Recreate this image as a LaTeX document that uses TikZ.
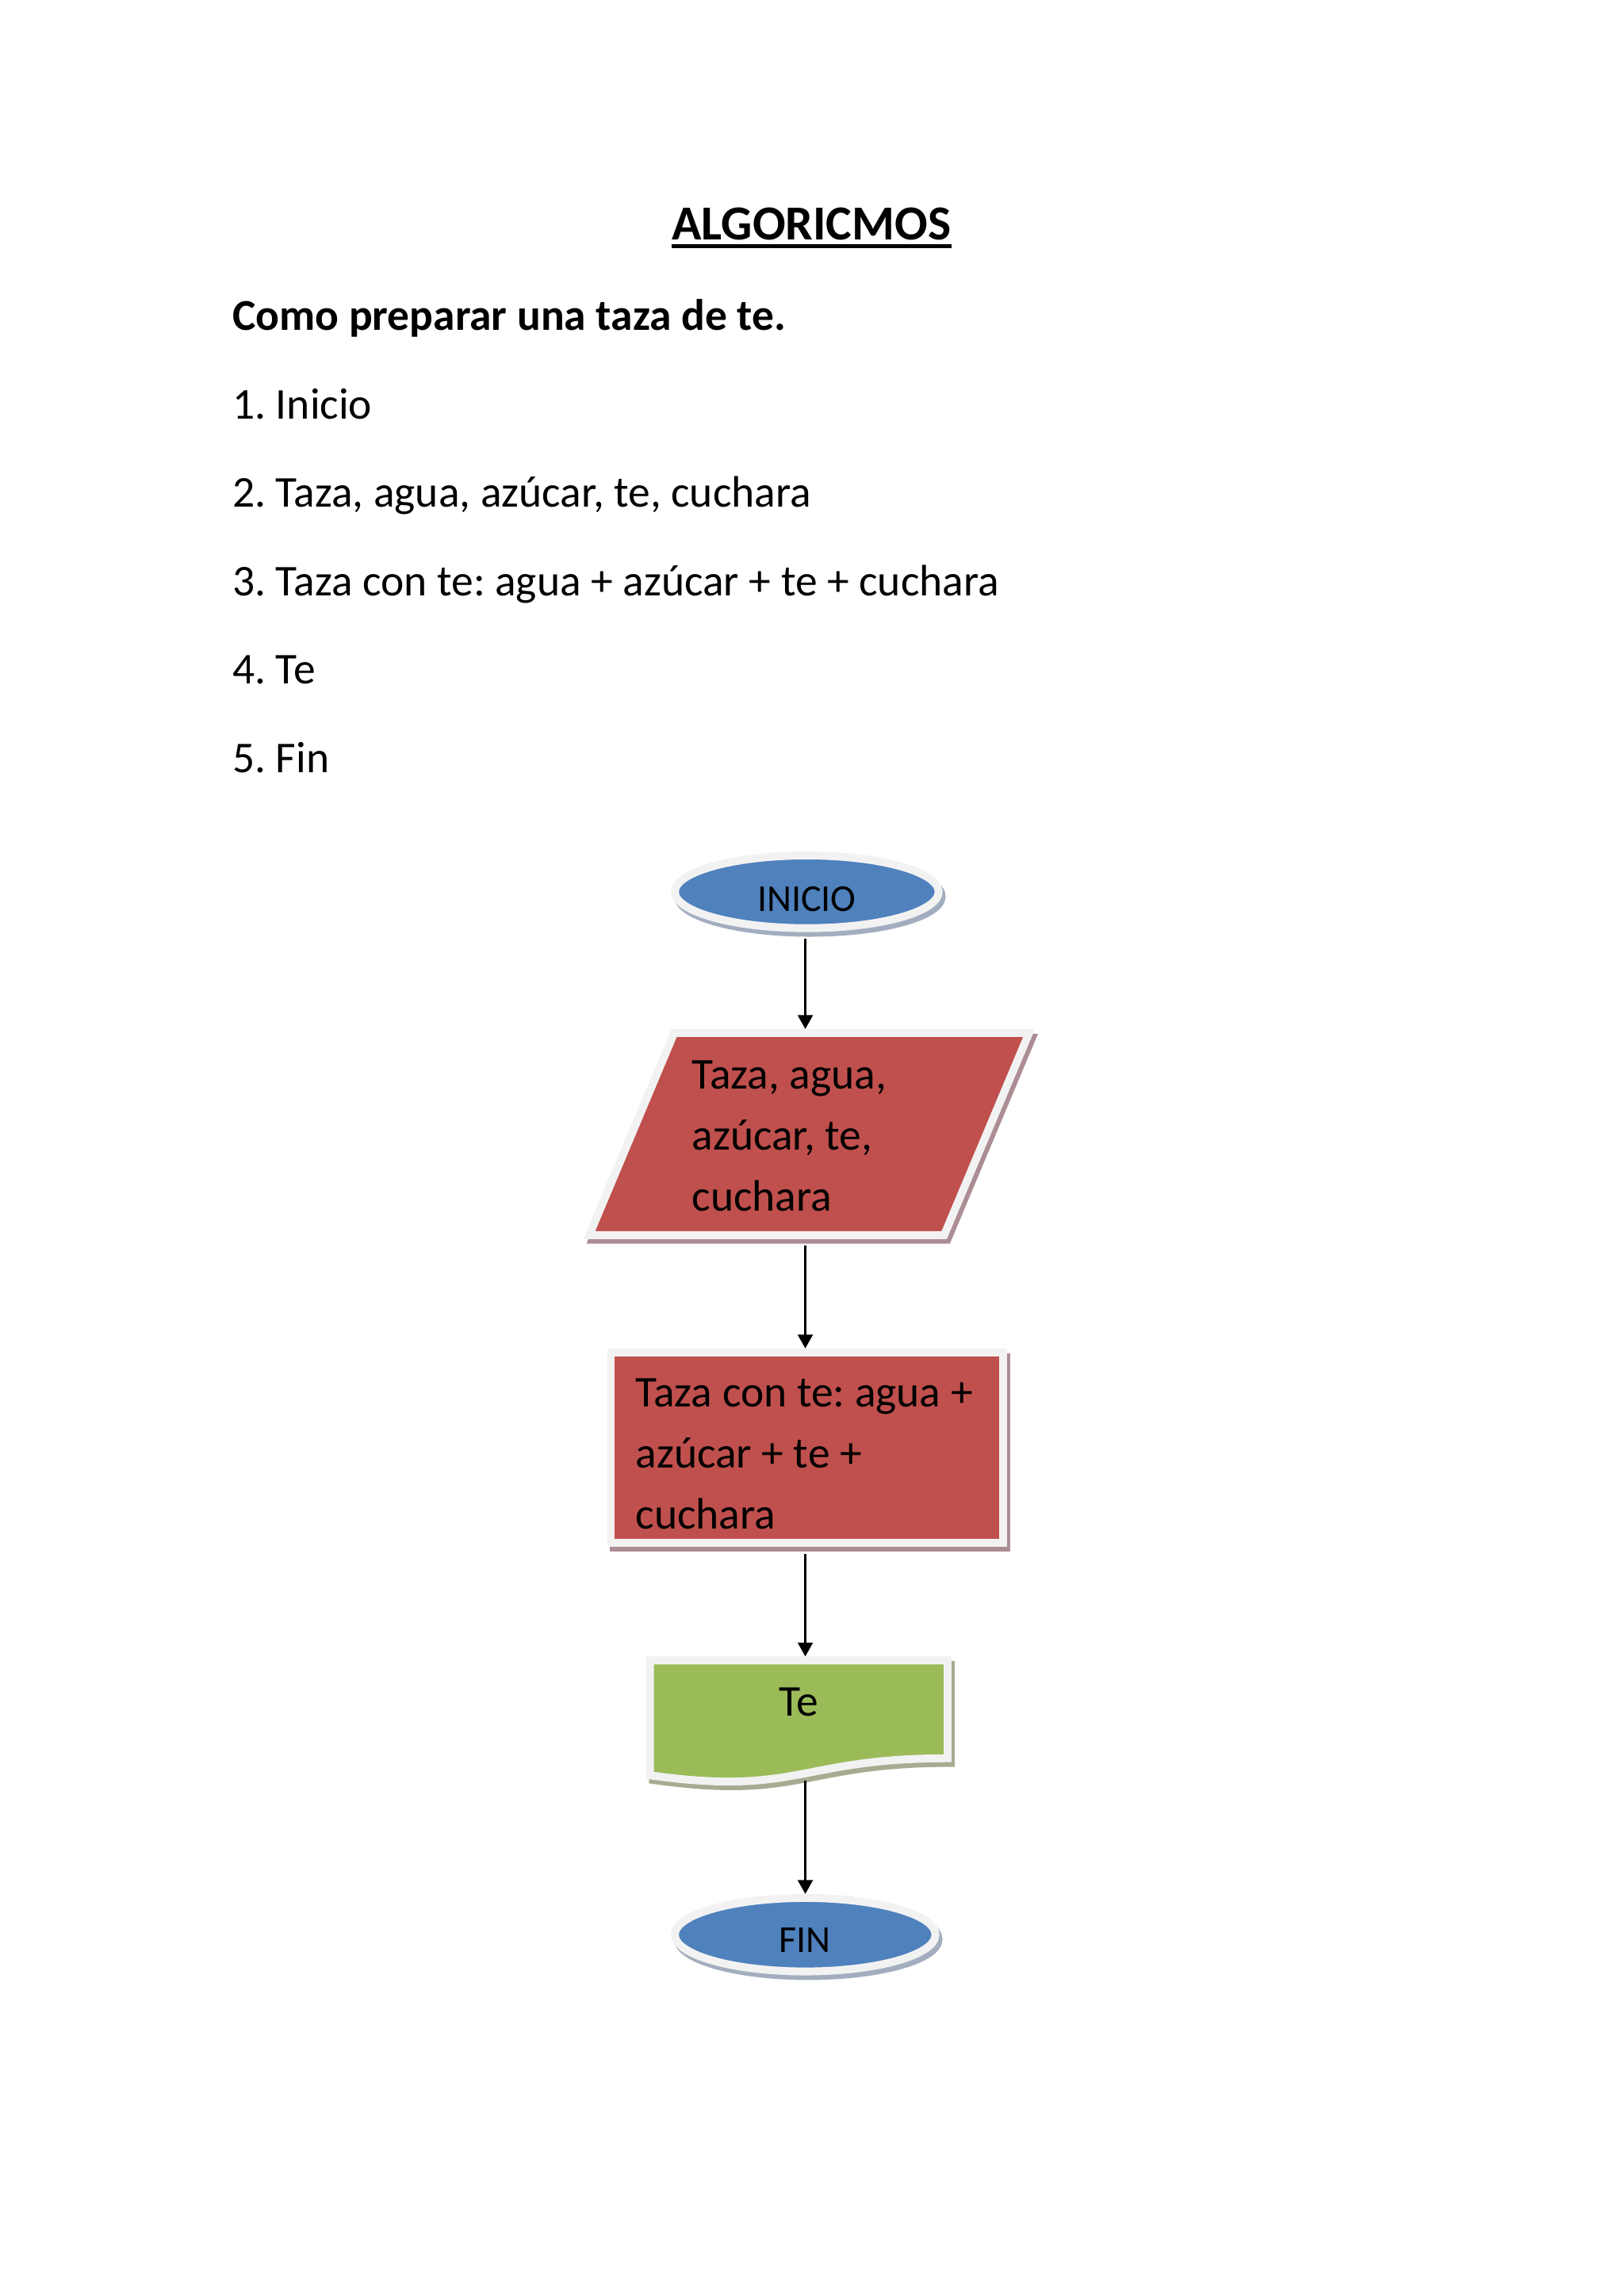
\documentclass[tikz,border=0pt]{standalone}
\usepackage{fontspec}
\setmainfont{Carlito}
\frenchspacing
\usetikzlibrary{arrows.meta,positioning,shapes.geometric,shadows,backgrounds}
\definecolor{azulterm}{HTML}{4F81BD}
\definecolor{rojoproc}{HTML}{C0504D}
\definecolor{verdedoc}{HTML}{9BBB59}
\definecolor{bordeclaro}{HTML}{F2F2F2}
\definecolor{sombraazul}{HTML}{A2AEBF}
\definecolor{sombraroja}{HTML}{AB8D93}
\definecolor{sombraverde}{HTML}{A5AC90}
\tikzset{
  titulo/.style={font=\fontsize{18}{22}\selectfont\bfseries,inner sep=0pt,anchor=base},
  subtitulo/.style={font=\fontsize{16.2}{19.5}\selectfont\bfseries,inner sep=0pt,anchor=base west},
  paso/.style={font=\fontsize{16.2}{19.5}\selectfont,inner sep=0pt,anchor=base west},
  borde/.style={draw=bordeclaro,line width=2.9pt},
  sombra/.style={drop shadow={shadow xshift=0.04cm,shadow yshift=-0.06cm,
                 fill=#1,draw=#1,line width=2.9pt,opacity=1}},
  terminal/.style={ellipse,borde,fill=azulterm,sombra=sombraazul,inner sep=0pt,
                   font=\fontsize{14}{17}\selectfont,text depth=0pt},
  proceso/.style={rectangle,borde,fill=rojoproc,sombra=sombraroja,inner sep=0pt,
                  minimum width=5.07cm,minimum height=2.46cm},
  hueco/.style={rectangle,draw=none,inner sep=0pt,outer sep=0pt},
  textoforma/.style={font=\fontsize{16.2}{22.46}\selectfont,align=left,
                     inner sep=0pt,anchor=base west},
  flecha/.style={-{Triangle[length=1.8mm,width=1.9mm]},line width=1pt}
}
\begin{document}
\begin{tikzpicture}[x=1cm,y=1cm]
  \useasboundingbox (0,0) rectangle (21,-29.7);
  \begin{scope}[on background layer]
    \fill[white] (0,0) rectangle (21,-29.7);
  \end{scope}

  % encabezado y pasos
  \node[titulo] (titulo) at (10.495,-3.107) {ALGORICMOS};
  \draw[line width=1.4pt] ([yshift=-0.075cm]titulo.base west) -- ([yshift=-0.075cm]titulo.base east);
  \node[subtitulo] (pregunta) at (3.0,-4.27) {Como preparar una taza de te.};
  \node[paso] (p1) at (3.0,-5.424) {1. Inicio};
  \node[paso] (p2) at (3.0,-6.563) {2. Taza, agua, azúcar, te, cuchara};
  \node[paso] (p3) at (3.0,-7.711) {3. Taza con te: agua + azúcar + te + cuchara};
  \node[paso] (p4) at (3.0,-8.849) {4. Te};
  \node[paso] (p5) at (3.0,-9.998) {5. Fin};

  % diagrama
  \coordinate (eje) at (10.415,0);
  \node[terminal,minimum width=3.41cm,minimum height=0.94cm,text height=0.51cm] (inicio) at (10.434,-11.536) {INICIO};
  \node[hueco,minimum width=4.59cm,minimum height=2.615cm] (datos) at (10.465,-14.669) {};
  \node[textoforma] (datosTxt) at (8.942,-15.669) {Taza, agua,\\azúcar, te,\\cuchara};
  \node[proceso] (proceso) at (10.437,-18.724) {};
  \node[textoforma] (procesoTxt) at (8.214,-19.78) {Taza con te: agua +\\azúcar + te +\\cuchara};
  \node[hueco,minimum width=3.85cm,minimum height=1.266cm,font=\fontsize{16.2}{19.5}\selectfont,
        text depth=0.185cm] (te) at (10.33,-22.111) {Te};
  \node[terminal,minimum width=3.37cm,minimum height=0.95cm,text height=0.45cm] (fin) at (10.413,-25.026) {FIN};

  \begin{scope}[on background layer]
    \draw[borde,fill=rojoproc,sombra=sombraroja]
      ([xshift=0.549cm]datos.north west) -- ([xshift=0.549cm]datos.north east)
      -- ([xshift=-0.549cm]datos.south east) -- ([xshift=-0.549cm]datos.south west) -- cycle;
    \draw[borde,fill=verdedoc,sombra=sombraverde]
      (te.north west) -- (te.north east) -- (te.south east)
      .. controls (te.south) and ([yshift=-0.49cm]te.south) .. ([yshift=-0.22cm]te.south west) -- cycle;
  \end{scope}
  \path (te.south -| eje) ++(0,-0.29) coordinate (teFondo);

  \draw[flecha,shorten <=0.09cm,shorten >=0.05cm] (eje |- inicio.south) -- (eje |- datos.north);
  \draw[flecha,shorten <=0.13cm] (eje |- datos.south) -- (eje |- proceso.north);
  \draw[flecha,shorten <=0.10cm,shorten >=0.05cm] (eje |- proceso.south) -- (eje |- te.north);
  \draw[flecha] (teFondo) -- (eje |- fin.north);
\end{tikzpicture}
\end{document}
